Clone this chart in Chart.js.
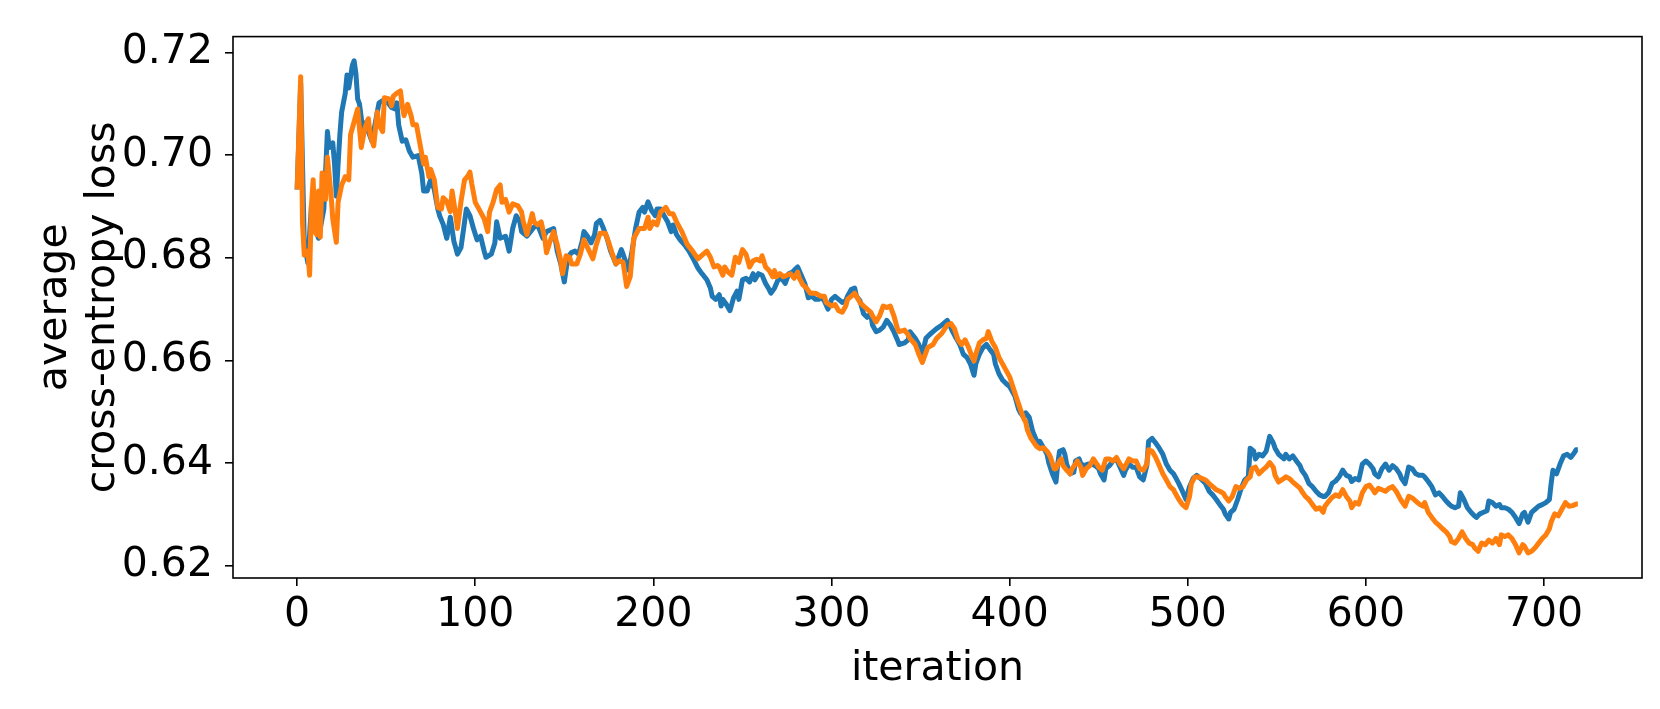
<!DOCTYPE html>
<html lang="en">

<head>
    <meta charset="UTF-8" />
    <title>average cross-entropy loss</title>
    <script src="https://cdn.jsdelivr.net/npm/chart.js"></script>
    <style>
        body { margin: 0; background: #fff; }
    </style>
</head>

<body>
    <canvas id="grafico" width="1660" height="709"></canvas>

    <script>
        // iteration / loss, one pair of arrays per run
        const blueIter = [0, 2, 4, 6, 8, 10, 12, 15, 17, 18, 20, 21, 22, 23, 24, 25, 27, 28, 29, 31, 32, 33, 34, 35, 37, 39, 40, 42, 45, 46, 48, 51, 53, 55, 56, 57, 59, 61, 63, 65, 68, 70, 71, 73, 75, 77, 78, 79, 80, 82, 84, 86, 88, 89, 90, 92, 94, 95, 97, 99, 101, 103, 105, 106, 109, 111, 112, 114, 117, 119, 121, 123, 125, 126, 129, 131, 133, 135, 138, 140, 142, 144, 146, 148, 150, 152, 154, 156, 158, 160, 161, 163, 165, 167, 168, 170, 172, 174, 176, 179, 182, 183, 186, 188, 190, 192, 194, 195, 197, 199, 201, 202, 204, 206, 208, 210, 211, 213, 215, 218, 220, 223, 225, 227, 228, 230, 232, 233, 235, 237, 238, 239, 241, 243, 245, 247, 248, 250, 252, 254, 256, 257, 259, 261, 263, 265, 266, 268, 270, 272, 274, 276, 278, 280, 281, 283, 285, 287, 289, 291, 293, 294, 296, 298, 300, 302, 304, 306, 308, 309, 311, 313, 314, 316, 318, 320, 322, 323, 325, 327, 329, 331, 333, 335, 337, 338, 341, 343, 344, 347, 349, 351, 353, 355, 357, 359, 362, 365, 366, 368, 370, 372, 374, 376, 378, 380, 381, 383, 385, 387, 389, 391, 392, 394, 396, 398, 400, 403, 405, 406, 408, 409, 411, 413, 416, 417, 419, 421, 422, 424, 426, 427, 428, 430, 431, 432, 434, 436, 437, 439, 440, 442, 444, 446, 448, 450, 451, 453, 454, 456, 458, 460, 462, 464, 465, 467, 469, 471, 473, 475, 477, 478, 480, 482, 484, 486, 488, 490, 492, 493, 495, 497, 499, 501, 503, 505, 506, 508, 510, 512, 514, 516, 518, 520, 521, 523, 524, 526, 528, 530, 532, 534, 535, 537, 538, 540, 542, 544, 546, 548, 549, 551, 554, 555, 557, 559, 561, 563, 564, 566, 568, 570, 572, 574, 576, 577, 579, 581, 583, 585, 587, 589, 591, 592, 594, 596, 598, 600, 602, 604, 605, 607, 609, 611, 613, 615, 617, 619, 620, 622, 624, 626, 628, 630, 632, 633, 635, 637, 639, 641, 643, 645, 647, 648, 650, 652, 653, 655, 657, 659, 661, 662, 664, 666, 668, 669, 671, 673, 675, 676, 678, 680, 682, 684, 686, 688, 689, 691, 693, 695, 697, 699, 701, 703, 704, 705, 707, 709, 711, 713, 715, 717, 718, 719];
        const blueLoss = [0.6933, 0.7140, 0.6830, 0.6790, 0.6900, 0.6860, 0.6838, 0.6895, 0.7046, 0.7015, 0.7024, 0.6983, 0.6920, 0.6983, 0.7040, 0.7084, 0.7120, 0.7156, 0.7131, 0.7175, 0.7184, 0.7159, 0.7109, 0.7100, 0.7046, 0.7065, 0.7046, 0.7027, 0.7084, 0.7102, 0.7106, 0.7102, 0.7093, 0.7090, 0.7102, 0.7059, 0.7027, 0.7030, 0.7008, 0.6996, 0.6999, 0.6964, 0.6930, 0.6930, 0.6953, 0.6933, 0.6914, 0.6895, 0.6882, 0.6865, 0.6838, 0.6879, 0.6832, 0.6820, 0.6807, 0.6820, 0.6870, 0.6895, 0.6882, 0.6857, 0.6835, 0.6842, 0.6813, 0.6801, 0.6807, 0.6829, 0.6870, 0.6838, 0.6842, 0.6813, 0.6857, 0.6882, 0.6870, 0.6851, 0.6842, 0.6851, 0.6860, 0.6864, 0.6838, 0.6851, 0.6854, 0.6857, 0.6813, 0.6788, 0.6753, 0.6801, 0.6810, 0.6813, 0.6807, 0.6832, 0.6851, 0.6842, 0.6829, 0.6845, 0.6867, 0.6873, 0.6857, 0.6838, 0.6813, 0.6788, 0.6816, 0.6807, 0.6776, 0.6813, 0.6857, 0.6889, 0.6898, 0.6889, 0.6909, 0.6892, 0.6882, 0.6895, 0.6895, 0.6882, 0.6870, 0.6851, 0.6864, 0.6845, 0.6835, 0.6823, 0.6813, 0.6794, 0.6780, 0.6770, 0.6766, 0.6757, 0.6741, 0.6725, 0.6719, 0.6728, 0.6706, 0.6719, 0.6709, 0.6697, 0.6722, 0.6735, 0.6719, 0.6757, 0.6760, 0.6753, 0.6769, 0.6757, 0.6769, 0.6766, 0.6750, 0.6738, 0.6731, 0.6741, 0.6757, 0.6760, 0.6750, 0.6769, 0.6772, 0.6779, 0.6782, 0.6766, 0.6750, 0.6722, 0.6725, 0.6719, 0.6719, 0.6725, 0.6716, 0.6700, 0.6719, 0.6725, 0.6719, 0.6713, 0.6716, 0.6725, 0.6738, 0.6741, 0.6725, 0.6716, 0.6691, 0.6684, 0.6691, 0.6669, 0.6656, 0.6659, 0.6665, 0.6678, 0.6669, 0.6656, 0.6640, 0.6631, 0.6634, 0.6640, 0.6656, 0.6643, 0.6631, 0.6612, 0.6643, 0.6650, 0.6656, 0.6662, 0.6669, 0.6678, 0.6672, 0.6656, 0.6643, 0.6631, 0.6612, 0.6606, 0.6593, 0.6571, 0.6593, 0.6612, 0.6625, 0.6631, 0.6621, 0.6612, 0.6593, 0.6574, 0.6562, 0.6555, 0.6549, 0.6530, 0.6505, 0.6498, 0.6489, 0.6498, 0.6489, 0.6461, 0.6436, 0.6442, 0.6430, 0.6417, 0.6400, 0.6379, 0.6363, 0.6398, 0.6423, 0.6426, 0.6417, 0.6398, 0.6379, 0.6382, 0.6404, 0.6408, 0.6398, 0.6395, 0.6398, 0.6398, 0.6395, 0.6389, 0.6379, 0.6367, 0.6389, 0.6395, 0.6404, 0.6408, 0.6392, 0.6376, 0.6386, 0.6398, 0.6392, 0.6392, 0.6373, 0.6367, 0.6395, 0.6442, 0.6448, 0.6439, 0.6429, 0.6417, 0.6398, 0.6386, 0.6379, 0.6373, 0.6360, 0.6345, 0.6329, 0.6354, 0.6370, 0.6376, 0.6373, 0.6367, 0.6360, 0.6345, 0.6338, 0.6329, 0.6319, 0.6310, 0.6301, 0.6291, 0.6304, 0.6310, 0.6329, 0.6351, 0.6367, 0.6373, 0.6429, 0.6423, 0.6408, 0.6417, 0.6414, 0.6423, 0.6452, 0.6439, 0.6429, 0.6417, 0.6408, 0.6417, 0.6408, 0.6414, 0.6404, 0.6395, 0.6386, 0.6376, 0.6360, 0.6354, 0.6345, 0.6338, 0.6335, 0.6335, 0.6342, 0.6360, 0.6365, 0.6373, 0.6386, 0.6376, 0.6373, 0.6364, 0.6370, 0.6367, 0.6398, 0.6404, 0.6398, 0.6389, 0.6379, 0.6373, 0.6389, 0.6398, 0.6386, 0.6395, 0.6389, 0.6379, 0.6370, 0.6360, 0.6392, 0.6389, 0.6379, 0.6376, 0.6376, 0.6373, 0.6364, 0.6354, 0.6338, 0.6342, 0.6335, 0.6326, 0.6319, 0.6316, 0.6313, 0.6316, 0.6342, 0.6329, 0.6313, 0.6304, 0.6297, 0.6294, 0.6301, 0.6304, 0.6307, 0.6326, 0.6323, 0.6316, 0.6319, 0.6313, 0.6313, 0.6310, 0.6304, 0.6294, 0.6282, 0.6301, 0.6304, 0.6285, 0.6304, 0.6310, 0.6316, 0.6319, 0.6323, 0.6329, 0.6360, 0.6386, 0.6379, 0.6398, 0.6414, 0.6417, 0.6411, 0.6420, 0.6426, 0.6426];

        const orangeIter = [0, 2, 3, 4, 6, 7, 8, 9, 10, 11, 12, 13, 14, 16, 17, 19, 20, 22, 23, 25, 27, 29, 30, 32, 34, 36, 38, 40, 41, 43, 45, 46, 48, 49, 52, 53, 54, 56, 58, 59, 60, 62, 64, 65, 67, 69, 71, 72, 74, 75, 77, 79, 81, 82, 84, 86, 87, 89, 90, 92, 94, 96, 97, 98, 100, 103, 105, 107, 108, 110, 112, 114, 115, 117, 119, 121, 124, 126, 127, 129, 132, 133, 135, 137, 139, 140, 142, 144, 146, 148, 149, 151, 153, 154, 157, 159, 161, 164, 166, 168, 170, 173, 175, 177, 179, 181, 183, 185, 187, 189, 192, 195, 197, 198, 200, 202, 204, 207, 209, 211, 213, 216, 219, 222, 225, 226, 228, 230, 232, 234, 236, 237, 239, 240, 242, 243, 244, 246, 248, 250, 252, 254, 256, 258, 260, 261, 263, 265, 267, 268, 269, 271, 273, 275, 277, 279, 281, 282, 284, 286, 288, 291, 294, 296, 297, 300, 302, 304, 306, 308, 309, 311, 313, 314, 316, 318, 320, 322, 323, 325, 327, 329, 331, 333, 335, 337, 338, 341, 343, 344, 347, 349, 351, 352, 354, 357, 359, 362, 365, 367, 369, 371, 373, 375, 377, 379, 380, 381, 383, 385, 387, 388, 390, 392, 394, 397, 400, 403, 406, 408, 409, 410, 412, 415, 417, 419, 421, 422, 423, 425, 426, 428, 429, 430, 432, 434, 435, 437, 438, 440, 441, 443, 445, 447, 449, 450, 452, 454, 456, 458, 460, 462, 464, 465, 467, 469, 471, 473, 475, 477, 478, 480, 482, 484, 486, 488, 490, 492, 493, 495, 497, 499, 501, 502, 504, 506, 508, 510, 512, 514, 516, 518, 520, 521, 523, 525, 527, 529, 531, 533, 535, 536, 538, 540, 542, 544, 546, 548, 549, 551, 554, 555, 557, 559, 561, 563, 564, 566, 568, 570, 572, 574, 576, 577, 579, 581, 583, 585, 587, 589, 591, 592, 594, 596, 598, 600, 602, 604, 605, 607, 609, 611, 613, 615, 617, 619, 620, 622, 624, 626, 628, 630, 632, 633, 635, 637, 639, 641, 643, 645, 647, 648, 650, 652, 654, 656, 658, 660, 661, 663, 665, 667, 669, 671, 673, 675, 676, 678, 680, 682, 684, 686, 688, 689, 691, 693, 695, 697, 699, 701, 703, 704, 706, 708, 710, 712, 714, 716, 718, 719];
        const orangeLoss = [0.6933, 0.7153, 0.6870, 0.6805, 0.6813, 0.6766, 0.6900, 0.6952, 0.6850, 0.6845, 0.6930, 0.6840, 0.6965, 0.6914, 0.6996, 0.6925, 0.6876, 0.6830, 0.6908, 0.6942, 0.6958, 0.6952, 0.7040, 0.7065, 0.7090, 0.7015, 0.7052, 0.7071, 0.7040, 0.7018, 0.7084, 0.7059, 0.7046, 0.7112, 0.7109, 0.7096, 0.7115, 0.7121, 0.7125, 0.7096, 0.7077, 0.7099, 0.7077, 0.7059, 0.7059, 0.7021, 0.6983, 0.6996, 0.6958, 0.6972, 0.6952, 0.6898, 0.6895, 0.6917, 0.6910, 0.6890, 0.6930, 0.6885, 0.6857, 0.6910, 0.6952, 0.6960, 0.6967, 0.6945, 0.6908, 0.6889, 0.6876, 0.6851, 0.6889, 0.6908, 0.6933, 0.6942, 0.6908, 0.6914, 0.6889, 0.6905, 0.6901, 0.6889, 0.6870, 0.6845, 0.6886, 0.6870, 0.6864, 0.6870, 0.6838, 0.6810, 0.6832, 0.6851, 0.6826, 0.6794, 0.6769, 0.6804, 0.6801, 0.6788, 0.6788, 0.6807, 0.6835, 0.6813, 0.6798, 0.6826, 0.6848, 0.6848, 0.6829, 0.6807, 0.6788, 0.6794, 0.6791, 0.6744, 0.6763, 0.6838, 0.6857, 0.6857, 0.6879, 0.6857, 0.6870, 0.6864, 0.6889, 0.6898, 0.6886, 0.6886, 0.6870, 0.6851, 0.6826, 0.6813, 0.6798, 0.6801, 0.6807, 0.6813, 0.6801, 0.6782, 0.6785, 0.6782, 0.6766, 0.6782, 0.6772, 0.6769, 0.6766, 0.6801, 0.6791, 0.6816, 0.6807, 0.6782, 0.6794, 0.6797, 0.6794, 0.6804, 0.6782, 0.6775, 0.6763, 0.6775, 0.6763, 0.6769, 0.6763, 0.6766, 0.6769, 0.6760, 0.6772, 0.6760, 0.6747, 0.6741, 0.6731, 0.6731, 0.6725, 0.6725, 0.6713, 0.6706, 0.6709, 0.6697, 0.6694, 0.6706, 0.6719, 0.6725, 0.6731, 0.6725, 0.6713, 0.6706, 0.6700, 0.6694, 0.6687, 0.6675, 0.6687, 0.6706, 0.6703, 0.6706, 0.6687, 0.6662, 0.6656, 0.6659, 0.6650, 0.6643, 0.6631, 0.6612, 0.6596, 0.6606, 0.6625, 0.6631, 0.6643, 0.6653, 0.6669, 0.6672, 0.6662, 0.6640, 0.6631, 0.6640, 0.6625, 0.6606, 0.6599, 0.6612, 0.6634, 0.6640, 0.6643, 0.6656, 0.6637, 0.6625, 0.6606, 0.6587, 0.6568, 0.6536, 0.6505, 0.6486, 0.6480, 0.6464, 0.6448, 0.6433, 0.6428, 0.6430, 0.6423, 0.6418, 0.6411, 0.6389, 0.6389, 0.6404, 0.6408, 0.6395, 0.6386, 0.6379, 0.6389, 0.6398, 0.6404, 0.6392, 0.6376, 0.6389, 0.6395, 0.6408, 0.6398, 0.6392, 0.6386, 0.6408, 0.6408, 0.6404, 0.6411, 0.6398, 0.6389, 0.6395, 0.6408, 0.6404, 0.6404, 0.6389, 0.6386, 0.6398, 0.6426, 0.6423, 0.6411, 0.6395, 0.6379, 0.6367, 0.6354, 0.6348, 0.6341, 0.6329, 0.6319, 0.6313, 0.6335, 0.6360, 0.6373, 0.6373, 0.6370, 0.6367, 0.6360, 0.6354, 0.6348, 0.6345, 0.6341, 0.6335, 0.6326, 0.6335, 0.6354, 0.6351, 0.6354, 0.6367, 0.6373, 0.6389, 0.6392, 0.6379, 0.6386, 0.6392, 0.6401, 0.6392, 0.6376, 0.6363, 0.6370, 0.6373, 0.6370, 0.6363, 0.6357, 0.6351, 0.6345, 0.6335, 0.6329, 0.6319, 0.6310, 0.6313, 0.6304, 0.6316, 0.6325, 0.6333, 0.6338, 0.6335, 0.6348, 0.6335, 0.6326, 0.6313, 0.6323, 0.6320, 0.6342, 0.6354, 0.6357, 0.6348, 0.6342, 0.6351, 0.6348, 0.6345, 0.6351, 0.6354, 0.6345, 0.6332, 0.6326, 0.6316, 0.6335, 0.6332, 0.6326, 0.6320, 0.6316, 0.6323, 0.6304, 0.6294, 0.6285, 0.6279, 0.6272, 0.6266, 0.6257, 0.6247, 0.6244, 0.6253, 0.6266, 0.6253, 0.6244, 0.6241, 0.6235, 0.6228, 0.6244, 0.6241, 0.6250, 0.6244, 0.6253, 0.6241, 0.6260, 0.6257, 0.6260, 0.6253, 0.6241, 0.6225, 0.6241, 0.6238, 0.6225, 0.6228, 0.6235, 0.6244, 0.6253, 0.6260, 0.6272, 0.6285, 0.6301, 0.6297, 0.6310, 0.6323, 0.6316, 0.6317, 0.6320, 0.6320];

        const xTicks = [0, 100, 200, 300, 400, 500, 600, 700];
        const yTicks = [0.62, 0.64, 0.66, 0.68, 0.70, 0.72];

        const pares = (xs, ys) => xs.map((x, i) => ({ x: x, y: ys[i] }));

        const fonte = { family: "DejaVu Sans", size: 41 };

        // moldura completa como no matplotlib
        const moldura = {
            id: "moldura",
            afterDatasetsDraw(chart) {
                const { ctx, chartArea: a } = chart;
                ctx.save();
                ctx.strokeStyle = "#000";
                ctx.lineWidth = 1.6;
                ctx.strokeRect(a.left, a.top, a.right - a.left, a.bottom - a.top);
                ctx.restore();
            }
        };

        const gradeTicks = {
            display: true,
            drawOnChartArea: false,
            drawTicks: true,
            tickLength: 8,
            color: "#000",
            lineWidth: 1.6
        };

        new Chart(document.getElementById("grafico"), {
            type: "line",
            data: {
                datasets: [{
                    label: "blue",
                    data: pares(blueIter, blueLoss),
                    borderColor: "#1f77b4",
                    borderWidth: 5,
                    order: 2
                }, {
                    label: "orange",
                    data: pares(orangeIter, orangeLoss),
                    borderColor: "#ff7f0e",
                    borderWidth: 5,
                    order: 1
                }]
            },
            options: {
                responsive: false,
                animation: false,
                events: [],
                layout: { padding: { left: 0, top: 18, right: 18, bottom: 0 } },
                elements: {
                    point: { radius: 0 },
                    line: { tension: 0, borderJoinStyle: "round", borderCapStyle: "butt", fill: false }
                },
                plugins: { legend: { display: false }, tooltip: { enabled: false } },
                scales: {
                    x: {
                        type: "linear",
                        min: -36,
                        max: 755,
                        afterBuildTicks: s => { s.ticks = xTicks.map(v => ({ value: v })); },
                        afterFit: s => { s.height = 131; },
                        grid: gradeTicks,
                        border: { display: false },
                        ticks: {
                            color: "#000",
                            font: fonte,
                            padding: 5,
                            maxRotation: 0,
                            autoSkip: false,
                            callback: v => String(v)
                        },
                        title: {
                            display: true,
                            text: "iteration",
                            color: "#000",
                            font: fonte,
                            padding: { top: 0, bottom: 15 }
                        }
                    },
                    y: {
                        type: "linear",
                        min: 0.6176,
                        max: 0.7231,
                        afterBuildTicks: s => { s.ticks = yTicks.map(v => ({ value: v })); },
                        afterFit: s => { s.width = 233; },
                        grid: gradeTicks,
                        border: { display: false },
                        ticks: {
                            color: "#000",
                            font: fonte,
                            padding: 12,
                            callback: v => v.toFixed(2)
                        },
                        title: {
                            display: true,
                            text: ["average", "cross-entropy loss"],
                            color: "#000",
                            font: { family: "DejaVu Sans", size: 41, lineHeight: 1.17 },
                            padding: { top: 31, bottom: 0 }
                        }
                    }
                }
            },
            plugins: [moldura]
        });
    </script>
</body>

</html>
